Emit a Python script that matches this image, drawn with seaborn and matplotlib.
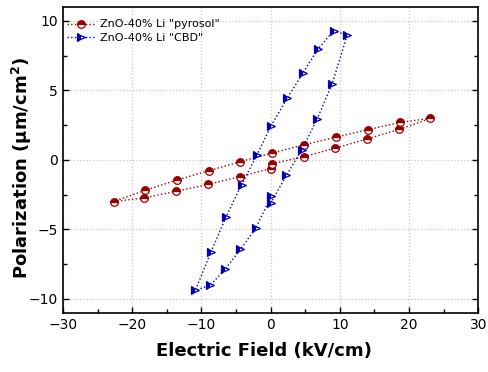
import matplotlib
matplotlib.use('Agg')
import matplotlib.pyplot as plt
import seaborn as sns
import pandas as pd

# ZnO-40% Li "pyrosol" (loop order)
pyro_x = [0.17, 4.8, 9.28, 13.95, 18.6, 23.1, 18.64, 14.05, 9.52, 4.89, 0.27,
          -4.36, -8.94, -13.5, -18.1, -22.67, -18.24, -13.6, -8.99, -4.46, 0.07]
pyro_y = [-0.29, 0.24, 0.84, 1.51, 2.20, 2.99, 2.70, 2.18, 1.65, 1.10, 0.50,
          -0.12, -0.77, -1.44, -2.18, -2.99, -2.73, -2.25, -1.75, -1.20, -0.62]

# ZnO-40% Li "CBD" (loop order)
cbd_x = [0.0, 2.29, 4.51, 6.72, 8.89, 11.06, 9.13, 6.82, 4.65, 2.38, 0.07,
         -1.95, -4.2, -6.43, -8.6, -10.87, -8.7, -6.58, -4.36, -2.14, 0.12]
cbd_y = [-3.13, -1.10, 0.74, 2.94, 5.48, 8.97, 9.31, 7.97, 6.24, 4.43, 2.46,
         0.38, -1.79, -4.09, -6.60, -9.38, -9.00, -7.87, -6.44, -4.90, -2.56]

red = '#990000'
blue = '#0000b0'

sns.set_style('ticks')
plt.rcParams['font.family'] = ['DejaVu Sans']
plt.rcParams['text.color'] = 'black'
plt.rcParams['axes.labelcolor'] = 'black'
plt.rcParams['xtick.color'] = 'black'
plt.rcParams['ytick.color'] = 'black'

fig = plt.figure(figsize=(4.88, 3.72), dpi=100)
ax = fig.add_axes([0.129, 0.159, 0.851, 0.822])

df_p = pd.DataFrame({'E': pyro_x, 'P': pyro_y})
df_c = pd.DataFrame({'E': cbd_x, 'P': cbd_y})

sns.lineplot(data=df_p, x='E', y='P', sort=False, estimator=None, ax=ax,
             color=red, linestyle=':', linewidth=1.0, marker='o', markersize=5.5,
             fillstyle='top', markerfacecoloralt='white', markeredgecolor=red,
             markeredgewidth=0.9, label='ZnO-40% Li "pyrosol"')
sns.lineplot(data=df_c, x='E', y='P', sort=False, estimator=None, ax=ax,
             color=blue, linestyle=':', linewidth=1.0, marker='>', markersize=5.5,
             fillstyle='left', markerfacecoloralt='white', markeredgecolor=blue,
             markeredgewidth=0.9, label='ZnO-40% Li "CBD"')

ax.set_xlim(-30, 30)
ax.set_ylim(-11, 11)
ax.set_xticks([-30, -20, -10, 0, 10, 20, 30])
ax.set_yticks([-10, -5, 0, 5, 10])
ax.set_xticks([-25, -15, -5, 5, 15, 25], minor=True)
ax.set_yticks([-7.5, -2.5, 2.5, 7.5], minor=True)
ax.tick_params(which='both', direction='in', right=True, top=False, labelsize=10)
ax.tick_params(which='major', length=4, width=1)
ax.tick_params(which='minor', length=3, width=1)
ax.grid(True, which='major', linestyle=':', color='#c8c8c8', linewidth=0.9)
for s in ax.spines.values():
    s.set_linewidth(1.2)
    s.set_color('black')

ax.set_xlabel('Electric Field (kV/cm)', fontsize=13, fontweight='bold')
ax.set_ylabel(r'Polarization ($\mathbf{\mu}$m/cm$^{\mathbf{2}}$)', fontsize=13,
              fontweight='bold')
ax.xaxis.label.set_va('center')
ax.yaxis.label.set_va('center')
ax.xaxis.set_label_coords(0.484, -0.125)
ax.yaxis.set_label_coords(-0.098, 0.474)

ax.legend(loc='upper left', frameon=False, fontsize=8, handlelength=2.6,
          borderaxespad=0.3, labelspacing=0.3, handletextpad=0.4,
          bbox_to_anchor=(-0.01, 0.985))

fig.savefig('out.png', dpi=100)
